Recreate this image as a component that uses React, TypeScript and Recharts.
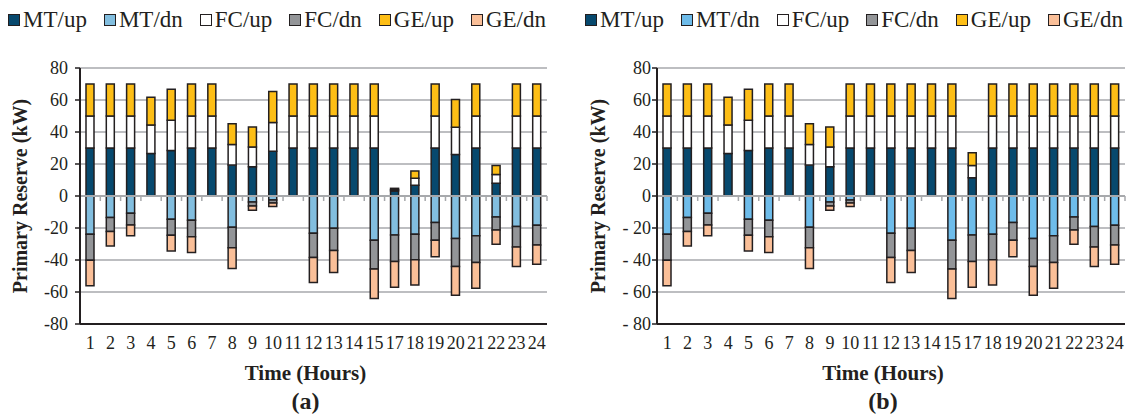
import { BarChart, Bar, XAxis, YAxis, CartesianGrid, ReferenceLine, Legend } from 'recharts';

const FONT = '"Liberation Serif", "Times New Roman", serif';
const INK = '#231F20';
const GRID = '#A7A9AC';

// hour 16 is not in the schedule
const hours = ['1','2','3','4','5','6','7','8','9','10','11','12','13','14','15','17','18','19','20','21','22','23','24'];
const yTicks = [-80, -60, -40, -20, 0, 20, 40, 60, 80];

// case (a) upward reserve
const mtUpA = [30,30,30,26.6,28.5,30,30,19.3,18.3,27.9,30,30,30,30,30,3.2,6.7,30,26,30,7.9,30,30];
const fcUpA = [20,20,20,17.7,18.9,20,20,12.9,12.3,18,20,20,20,20,20,0.8,4.4,20,17,20,5.6,20,20];
const geUpA = [20,20,20,17.4,19.3,20,20,12.9,12.6,19.4,20,20,20,20,20,0.8,4.6,20,17.3,20,5.6,20,20];

// case (b) upward reserve
const mtUpB = [30,30,30,26.6,28.5,30,30,19.3,18.3,30,30,30,30,30,30,11.4,30,30,30,30,30,30,30];
const fcUpB = [20,20,20,17.7,18.9,20,20,12.9,12.3,20,20,20,20,20,20,7.7,20,20,20,20,20,20,20];
const geUpB = [20,20,20,17.4,19.3,20,20,12.9,12.6,20,20,20,20,20,20,7.9,20,20,20,20,20,20,20];

// downward reserve (same in both cases)
const mtDn = [-23.9,-13.5,-10.8,0,-14.6,-15.2,0,-19.5,-3.7,-2.5,0,-23.3,-20.2,0,-27.7,-24.3,-23.9,-16.6,-26.6,-24.9,-13.1,-19.1,-18.3];
const fcDn = [-16.2,-8.7,-7.3,0,-9.9,-10.2,0,-12.9,-2.5,-1.9,0,-15.2,-13.9,0,-18,-16.6,-16,-11,-17.5,-16.6,-8.1,-12.7,-12.3];
const geDn = [-16,-9,-6.8,0,-9.8,-9.9,0,-12.9,-2.7,-2.2,0,-15.6,-13.7,0,-18.3,-16.2,-15.8,-10.4,-17.9,-16.2,-8.9,-12.3,-12];

const series = [
  { key: 'mtUp', name: 'MT/up' },
  { key: 'mtDn', name: 'MT/dn' },
  { key: 'fcUp', name: 'FC/up' },
  { key: 'fcDn', name: 'FC/dn' },
  { key: 'geUp', name: 'GE/up' },
  { key: 'geDn', name: 'GE/dn' },
];

const baseColors: Record<string, string> = {
  mtUp: '#07496E',
  mtDn: '#82BEDF',
  fcUp: '#FFFFFF',
  fcDn: '#939598',
  geUp: '#FDBE16',
  geDn: '#FABF98',
};

const tickStyle = { fill: INK, fontSize: 18, style: { fontFamily: FONT } };

// zero line with small ticks at the category boundaries
const ZeroLine = (props: any) => {
  const { x1, y1, x2 } = props;
  const n = hours.length;
  const step = (x2 - x1) / n;
  return (
    <g>
      <line x1={x1} y1={y1} x2={x2} y2={y1} stroke={GRID} strokeWidth={2} />
      {Array.from({ length: n + 1 }, (_, i) => (
        <line key={i} x1={x1 + i * step} y1={y1} x2={x1 + i * step} y2={y1 + 5} stroke={GRID} strokeWidth={1.5} />
      ))}
    </g>
  );
};

type PanelProps = {
  mtUp: number[]; fcUp: number[]; geUp: number[];
  tag: string; colors: Record<string, string>;
  yWidth: number; right: number; tickMargin: number; titleX: number; legendLeft: number;
  fmt: (v: number) => string;
};

function Panel(p: PanelProps) {
  const rows = hours.map((h, i) => ({
    hour: h,
    mtUp: p.mtUp[i], mtDn: mtDn[i],
    fcUp: p.fcUp[i], fcDn: fcDn[i],
    geUp: p.geUp[i], geDn: geDn[i],
  }));

  const legend = () => (
    <div style={{ display: 'flex', alignItems: 'center', height: 40, fontFamily: FONT, fontSize: 23, color: INK, whiteSpace: 'nowrap' }}>
      {series.map(s => (
        <span key={s.key} style={{ display: 'flex', alignItems: 'center', marginRight: 17 }}>
          <span style={{ display: 'inline-block', width: 10, height: 10, border: `1.5px solid ${INK}`, background: p.colors[s.key], marginRight: 3 }} />
          {s.name}
        </span>
      ))}
    </div>
  );

  const yTitle = (lp: any) => {
    const vb = lp.viewBox;
    const cy = vb.y + vb.height / 2;
    return (
      <text x={p.titleX} y={cy} transform={`rotate(-90 ${p.titleX} ${cy})`} textAnchor='middle' dominantBaseline='central'
        style={{ fontFamily: FONT }} fontSize={20} fontWeight='bold' fill={INK}>Primary Reserve (kW)</text>
    );
  };

  const xTitle = (lp: any) => {
    const vb = lp.viewBox;
    const cx = vb.x + vb.width / 2 - 8;
    return (
      <g style={{ fontFamily: FONT }} fontWeight='bold' fill={INK} textAnchor='middle'>
        <text x={cx} y={vb.y + 49} dominantBaseline='central' fontSize={21}>Time (Hours)</text>
        <text x={cx} y={vb.y + 77} dominantBaseline='central' fontSize={24}>{p.tag}</text>
      </g>
    );
  };

  return (
    <BarChart width={565} height={416} data={rows} stackOffset='sign' barSize={8}
      margin={{ top: 28, right: p.right, bottom: 0, left: 0 }} style={{ fontFamily: FONT }}>
      <CartesianGrid vertical={false} stroke={GRID} strokeWidth={1.5} />
      <XAxis dataKey='hour' interval={0} height={92} tickLine={false} tickSize={0} tickMargin={12}
        axisLine={{ stroke: INK, strokeWidth: 2 }}
        tick={tickStyle} label={{ content: xTitle }} />
      <YAxis width={p.yWidth} domain={[-80, 80]} ticks={yTicks} tickFormatter={p.fmt} tickSize={5} tickMargin={p.tickMargin}
        axisLine={{ stroke: INK, strokeWidth: 2 }} tickLine={{ stroke: INK, strokeWidth: 1.5 }}
        tick={tickStyle} label={{ content: yTitle }} />
      <Legend verticalAlign='top' content={legend} wrapperStyle={{ top: 0, left: p.legendLeft }} />
      {series.map(s => (
        <Bar key={s.key} dataKey={s.key} name={s.name} stackId='r' fill={p.colors[s.key]}
          stroke={INK} strokeWidth={1.5} isAnimationActive={false} />
      ))}
      <ReferenceLine y={0} shape={ZeroLine} />
    </BarChart>
  );
}

export default function App() {
  return (
    <div style={{ position: 'absolute', left: 0, top: 0, width: 1130, height: 416, display: 'flex', background: '#fff', fontFamily: FONT }}>
      <Panel mtUp={mtUpA} fcUp={fcUpA} geUp={geUpA} tag='(a)' colors={baseColors}
        yWidth={80} right={18} tickMargin={7} titleX={20} legendLeft={8}
        fmt={(v: number) => String(v)} />
      <Panel mtUp={mtUpB} fcUp={fcUpB} geUp={geUpB} tag='(b)' colors={{ ...baseColors, mtDn: '#6EBCEA' }}
        yWidth={92} right={5} tickMargin={1} titleX={33} legendLeft={20}
        fmt={(v: number) => (v < 0 ? `- ${-v}` : String(v))} />
    </div>
  );
}
